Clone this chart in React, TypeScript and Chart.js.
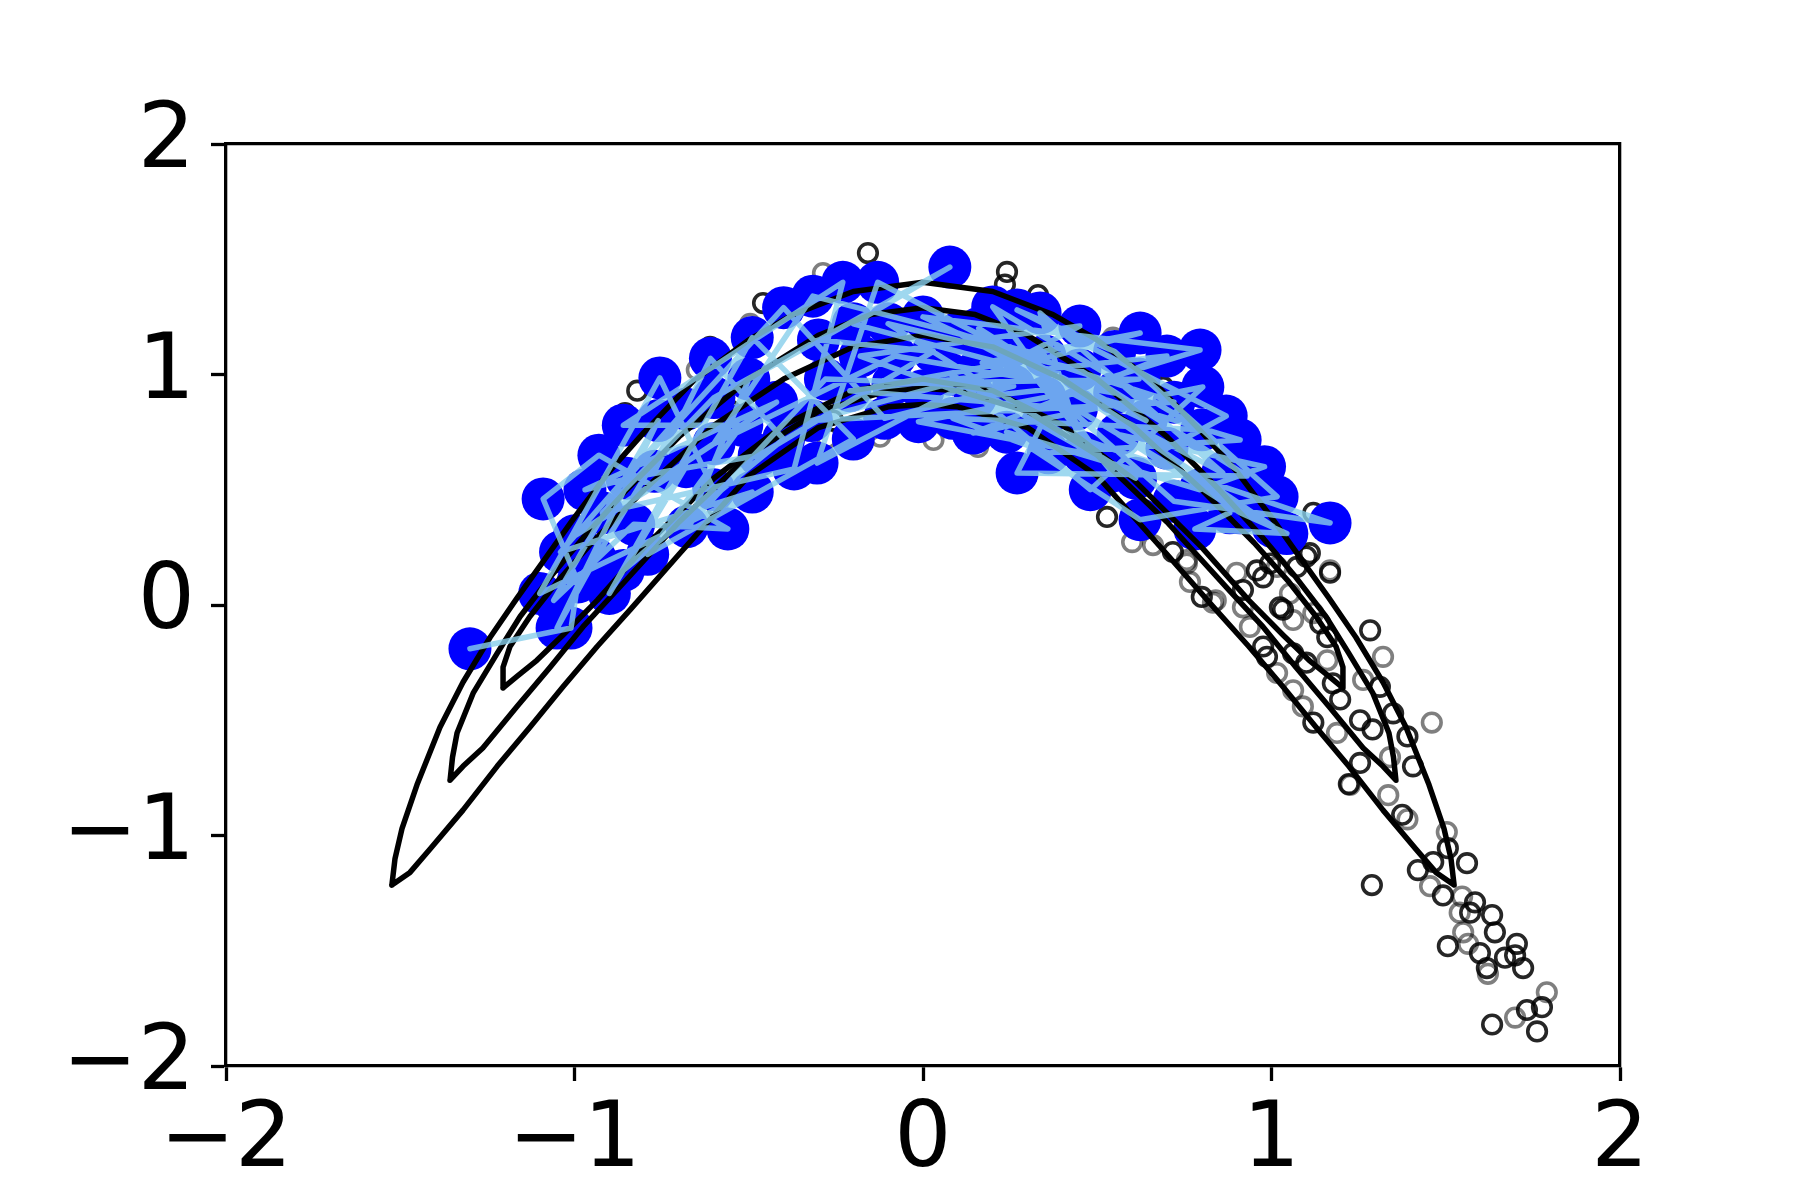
import React, { useEffect, useRef } from 'react';
import { Chart, registerables } from 'chart.js';

Chart.register(...registerables);

// Axis ticks
const TICK_VALUES = [-2, -1, 0, 1, 2];
const TICK_LABELS = ['\u22122', '\u22121', '0', '1', '2'];

// Density contour levels (closed curves)
const CONTOUR_OUTER: [number, number][] = [
  [-1.524, -1.215], [-1.515, -1.1], [-1.495, -0.97], [-1.452, -0.78], [-1.386, -0.53], [-1.32, -0.335],
  [-1.242, -0.14], [-1.165, 0.03], [-1.08, 0.21], [-1.0, 0.38], [-0.9, 0.58], [-0.8, 0.75], [-0.66, 0.97],
  [-0.5, 1.15], [-0.373, 1.26], [-0.2, 1.36], [0, 1.4], [0.2, 1.36], [0.373, 1.26], [0.5, 1.15], [0.66, 0.97],
  [0.8, 0.75], [0.9, 0.58], [1.0, 0.38], [1.08, 0.21], [1.165, 0.03], [1.242, -0.14], [1.32, -0.335],
  [1.386, -0.53], [1.452, -0.78], [1.495, -0.97], [1.515, -1.1], [1.524, -1.215], [1.472, -1.16], [1.415, -1.06],
  [1.32, -0.89], [1.222, -0.7], [1.128, -0.53], [1.033, -0.355], [0.935, -0.18], [0.84, -0.02], [0.7, 0.22],
  [0.5, 0.56], [0.3, 0.77], [0.1, 0.86], [0, 0.87], [-0.1, 0.86], [-0.3, 0.77], [-0.5, 0.56], [-0.7, 0.22],
  [-0.84, -0.02], [-0.935, -0.18], [-1.033, -0.355], [-1.128, -0.53], [-1.222, -0.7], [-1.32, -0.89],
  [-1.415, -1.06], [-1.472, -1.16], [-1.524, -1.215],
];

const CONTOUR_MIDDLE: [number, number][] = [
  [-1.357, -0.76], [-1.35, -0.66], [-1.337, -0.555], [-1.29, -0.38], [-1.222, -0.21], [-1.156, -0.05],
  [-1.07, 0.12], [-0.976, 0.29], [-0.85, 0.5], [-0.7, 0.73], [-0.5, 0.98], [-0.3, 1.17], [-0.15, 1.26],
  [0, 1.29], [0.15, 1.26], [0.3, 1.17], [0.5, 0.98], [0.7, 0.73], [0.85, 0.5], [0.976, 0.29], [1.07, 0.12],
  [1.156, -0.05], [1.222, -0.21], [1.29, -0.38], [1.337, -0.555], [1.35, -0.66], [1.357, -0.76],
  [1.32, -0.7], [1.263, -0.62], [1.165, -0.44], [1.07, -0.27], [0.976, -0.095], [0.878, 0.065], [0.7, 0.36],
  [0.5, 0.65], [0.3, 0.84], [0.1, 0.93], [0, 0.94], [-0.1, 0.93], [-0.3, 0.84], [-0.5, 0.65], [-0.7, 0.36],
  [-0.878, 0.065], [-0.976, -0.095], [-1.07, -0.27], [-1.165, -0.44], [-1.263, -0.62], [-1.32, -0.7],
  [-1.357, -0.76],
];

const CONTOUR_INNER: [number, number][] = [
  [-1.205, -0.36], [-1.205, -0.27], [-1.185, -0.18], [-1.128, -0.05], [-1.05, 0.1], [-0.95, 0.27],
  [-0.8, 0.5], [-0.6, 0.78], [-0.4, 0.98], [-0.2, 1.12], [0, 1.17], [0.2, 1.12], [0.4, 0.98], [0.6, 0.78],
  [0.8, 0.5], [0.95, 0.27], [1.05, 0.1], [1.128, -0.05], [1.185, -0.18], [1.205, -0.27], [1.205, -0.36],
  [1.165, -0.31], [1.108, -0.24], [1.033, -0.13], [0.935, 0.02], [0.8, 0.25], [0.6, 0.55], [0.4, 0.78],
  [0.2, 0.93], [0, 0.98], [-0.2, 0.93], [-0.4, 0.78], [-0.6, 0.55], [-0.8, 0.25], [-0.935, 0.02],
  [-1.033, -0.13], [-1.108, -0.24], [-1.165, -0.31], [-1.205, -0.36],
];

// Reference samples (open circles): dark and light
const SAMPLES_DARK: [number, number][] = [
  [-0.158, 1.527], [-0.459, 1.31], [-0.611, 1.12], [-0.82, 0.93], [-0.855, 0.833], [-0.258, 0.8],
  [-0.554, 0.845], [-0.525, 0.79], [-0.4, 0.8], [0.241, 1.445], [0.235, 1.39], [0.33, 1.345], [0.46, 1.236],
  [0.689, 0.946], [1.12, 0.4], [0.528, 0.382], [0.717, 0.23], [0.8, 0.035], [0.918, 0.065], [0.958, 0.15],
  [0.996, 0.18], [1.073, 0.165], [1.11, 0.225], [1.033, -0.02], [0.976, 0.12], [1.024, -0.01], [1.1, 0.21],
  [1.168, 0.14], [1.14, -0.08], [1.16, -0.14], [0.976, -0.18], [0.987, -0.225], [1.062, -0.21], [1.1, -0.25],
  [1.176, -0.34], [1.197, -0.41], [1.12, -0.51], [1.254, -0.685], [1.283, -0.11], [1.311, -0.355],
  [1.254, -0.5], [1.29, -0.54], [1.349, -0.47], [1.39, -0.57], [1.406, -0.7], [1.375, -0.91], [1.506, -1.055],
  [1.561, -1.12], [1.42, -1.15], [1.464, -1.115], [1.492, -1.26], [1.288, -1.215], [1.584, -1.29],
  [1.57, -1.335], [1.633, -1.345], [1.641, -1.42], [1.506, -1.48], [1.598, -1.51], [1.618, -1.575],
  [1.67, -1.53], [1.704, -1.47], [1.699, -1.52], [1.722, -1.575], [1.776, -1.745], [1.733, -1.757],
  [1.633, -1.82], [1.762, -1.85], [1.222, -0.777],
];

const SAMPLES_LIGHT: [number, number][] = [
  [-0.287, 1.44], [-0.496, 1.22], [-0.649, 1.02], [-0.2, 0.77], [-0.152, 0.76], [-0.123, 0.73], [0.03, 0.716],
  [-0.59, 0.425], [-0.35, 0.76], [-0.275, 0.725], [0.545, 1.16], [0.944, 0.586], [0.6, 0.273], [0.66, 0.26],
  [0.757, 0.18], [0.84, 0.02], [1.168, 0.15], [0.158, 0.686], [0.757, 0.195], [0.832, 0.01], [0.766, 0.1],
  [0.9, 0.14], [1.016, 0.165], [0.918, -0.01], [0.938, -0.095], [1.062, -0.065], [1.053, 0.05], [1.12, -0.035],
  [1.016, -0.295], [1.16, -0.24], [1.062, -0.37], [1.09, -0.44], [1.188, -0.555], [1.32, -0.225],
  [1.263, -0.325], [1.34, -0.66], [1.46, -0.51], [1.225, -0.78], [1.335, -0.825], [1.39, -0.93],
  [1.503, -0.985], [1.455, -1.22], [1.547, -1.265], [1.54, -1.335], [1.55, -1.42], [1.564, -1.47],
  [1.621, -1.6], [1.79, -1.68], [1.699, -1.79], [0.872, 0.816], [0.86, 0.455],
];

// Particle trajectory (blue dots joined in visiting order)
const TRAJECTORY: [number, number][] = [
  [-1.3, -0.19], [-1.01, -0.1], [-0.99, 0.1], [-1.09, 0.46], [-0.93, 0.65], [-0.56, 0.33], [-0.83, 0.35],
  [-1.06, 0.02], [-0.76, 0.8], [-1.05, -0.1], [-0.94, 0.2], [-0.68, 0.85], [-1.04, 0.23], [-0.49, 0.49],
  [-1.1, 0.05], [-0.755, 0.985], [-0.6, 0.5], [-0.86, 0.15], [-0.4, 0.72], [-0.61, 1.07], [-0.77, 0.58],
  [-0.97, 0.5], [-0.42, 0.88], [-1.0, 0.3], [-0.68, 0.6], [-0.9, 0.05], [-0.49, 1.16], [-0.2, 0.72],
  [-0.79, 0.22], [-0.52, 0.78], [-0.86, 0.78], [-0.23, 1.4], [-0.37, 0.59], [-0.92, 0.4], [-0.6, 0.9],
  [-0.3, 1.15], [0.03, 1.1], [-0.47, 0.65], [-0.85, 0.55], [-0.4, 1.29], [-0.11, 0.81], [0.26, 0.95],
  [-0.28, 0.98], [-0.677, 0.34], [-0.5, 0.98], [0.077, 1.466], [-0.2, 1.22], [0.55, 0.92], [-0.08, 1.08],
  [-0.6, 0.7], [-0.316, 1.34], [0.35, 1.08], [-0.086, 0.96], [0.62, 0.98], [0.15, 0.9], [-0.18, 1.08],
  [0.45, 1.21], [-0.304, 0.616], [-0.13, 1.4], [0.64, 0.8], [0.0, 1.25], [0.795, 1.106], [0.35, 0.9],
  [-0.013, 0.795], [0.46, 0.66], [0.336, 1.267], [0.86, 0.573], [0.1, 1.18], [0.72, 0.88], [-0.32, 0.8],
  [0.0, 0.93], [0.623, 1.18], [0.17, 1.05], [0.91, 0.716], [0.36, 0.66], [0.086, 0.81], [0.8, 0.76],
  [0.2, 1.293], [0.54, 0.58], [0.25, 1.12], [1.004, 0.34], [0.44, 0.85], [-0.21, 0.93], [0.7, 1.08],
  [0.144, 0.746], [0.803, 0.946], [0.48, 0.5], [0.08, 1.0], [0.61, 0.55], [-0.1, 1.22], [0.45, 1.02],
  [0.93, 0.56], [0.27, 0.573], [0.34, 0.78], [1.168, 0.356], [0.72, 0.45], [0.16, 1.2], [0.7, 0.68],
  [0.87, 0.82], [0.27, 1.28], [0.55, 1.1], [1.016, 0.47], [0.623, 0.37], [0.24, 0.75], [0.795, 0.5],
  [0.98, 0.6], [0.56, 0.74], [0.91, 0.4], [1.044, 0.31], [0.78, 0.33], [0.88, 0.4],
];

const toXY = (arr: [number, number][]) => arr.map(([x, y]) => ({ x, y }));
const fmtTick = (v: number | string) => {
  const i = TICK_VALUES.indexOf(Number(v));
  return i >= 0 ? TICK_LABELS[i] : '';
};

const FONT = 'DejaVu Sans';
const LW = 3.3;

export default function App() {
  const ref = useRef<HTMLCanvasElement | null>(null);

  useEffect(() => {
    if (!ref.current) return;
    const contourStyle = {
      showLine: true,
      pointRadius: 0,
      borderColor: '#000000',
      borderWidth: 5.5,
      borderJoinStyle: 'round' as const,
      borderCapStyle: 'round' as const,
      tension: 0,
      fill: false,
    };
    const chart = new Chart(ref.current, {
      type: 'scatter',
      data: {
        datasets: [
          {
            label: 'trajectory',
            data: toXY(TRAJECTORY),
            showLine: true,
            pointRadius: 0,
            borderColor: 'rgba(135,206,235,0.8)',
            borderWidth: 5.5,
            borderJoinStyle: 'round',
            borderCapStyle: 'round',
            tension: 0,
            order: 0,
          } as any,
          { label: 'outer', data: toXY(CONTOUR_OUTER), ...contourStyle, order: 1 } as any,
          { label: 'middle', data: toXY(CONTOUR_MIDDLE), ...contourStyle, order: 1 } as any,
          { label: 'inner', data: toXY(CONTOUR_INNER), ...contourStyle, order: 1 } as any,
          {
            label: 'particles',
            data: toXY(TRAJECTORY),
            showLine: false,
            pointRadius: 21.5,
            backgroundColor: '#0000ff',
            borderWidth: 0,
            order: 2,
          } as any,
          {
            label: 'samples dark',
            data: toXY(SAMPLES_DARK),
            showLine: false,
            pointRadius: 9.3,
            backgroundColor: 'rgba(0,0,0,0)',
            borderColor: 'rgba(0,0,0,0.85)',
            borderWidth: 3.6,
            order: 3,
          } as any,
          {
            label: 'samples light',
            data: toXY(SAMPLES_LIGHT),
            showLine: false,
            pointRadius: 9.3,
            backgroundColor: 'rgba(0,0,0,0)',
            borderColor: 'rgba(0,0,0,0.5)',
            borderWidth: 3.6,
            order: 4,
          } as any,
        ],
      },
      options: {
        responsive: false,
        animation: false,
        devicePixelRatio: 1,
        events: [],
        layout: { padding: 0 },
        plugins: { legend: { display: false }, tooltip: { enabled: false } },
        scales: {
          x: {
            type: 'linear',
            position: 'bottom',
            min: -2,
            max: 2,
            afterBuildTicks: (s: any) => { s.ticks = TICK_VALUES.map((v) => ({ value: v })); },
            afterFit: (s: any) => { s.height = 134; },
            ticks: {
              autoSkip: false,
              maxRotation: 0,
              padding: 8,
              color: '#000000',
              font: { family: FONT, size: 90 },
              callback: fmtTick,
            },
            grid: { display: true, drawOnChartArea: false, drawTicks: true, tickLength: 15, tickWidth: LW, tickColor: '#000000' },
            border: { display: true, color: '#000000', width: LW },
          },
          y: {
            type: 'linear',
            position: 'left',
            min: -2,
            max: 2,
            afterBuildTicks: (s: any) => { s.ticks = TICK_VALUES.map((v) => ({ value: v })); },
            afterFit: (s: any) => { s.width = 226; },
            ticks: {
              autoSkip: false,
              padding: 16,
              color: '#000000',
              font: { family: FONT, size: 90 },
              callback: fmtTick,
            },
            grid: { display: true, drawOnChartArea: false, drawTicks: true, tickLength: 15, tickWidth: LW, tickColor: '#000000' },
            border: { display: true, color: '#000000', width: LW },
          },
          xTop: {
            type: 'linear',
            position: 'top',
            min: -2,
            max: 2,
            afterFit: (s: any) => { s.height = 144; },
            ticks: { display: false },
            grid: { display: false, drawTicks: false },
            border: { display: true, color: '#000000', width: LW },
          },
          yRight: {
            type: 'linear',
            position: 'right',
            min: -2,
            max: 2,
            afterFit: (s: any) => { s.width = 180; },
            ticks: { display: false },
            grid: { display: false, drawTicks: false },
            border: { display: true, color: '#000000', width: LW },
          },
        },
      } as any,
    });
    return () => chart.destroy();
  }, []);

  return (
    <div style={{ position: 'absolute', left: 0, top: 0, width: 1800, height: 1200, background: '#ffffff' }}>
      <canvas ref={ref} width={1800} height={1200} style={{ width: 1800, height: 1200 }} />
    </div>
  );
}
